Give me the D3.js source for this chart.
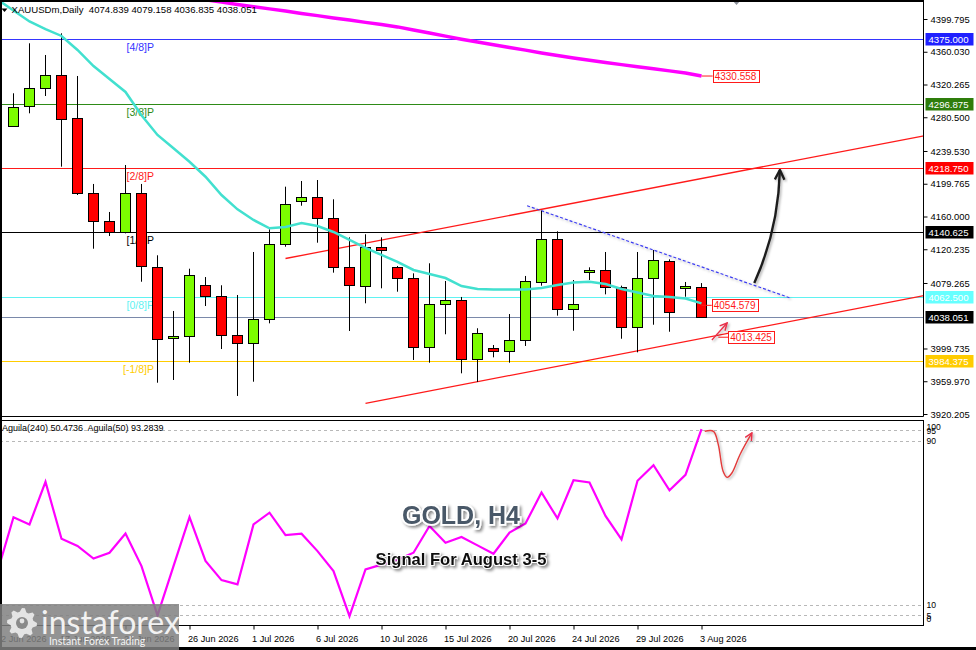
<!DOCTYPE html>
<html>
<head>
<meta charset="utf-8">
<script src="https://d3js.org/d3.v7.min.js"></script>
<style>
  html, body { margin: 0; padding: 0; background: #fff; }
  svg { display: block; font-family: "Liberation Sans", Arial, sans-serif; }
</style>
</head>
<body>
<svg id="chart"></svg>
<script>
// ---- price axis ----
const priceTicks = [4399.795, 4360.030, 4320.265, 4280.500, 4239.530, 4199.765,
                    4160.000, 4120.235, 4079.265, 3999.735, 3959.970, 3920.205];

// ---- daily candles (bar 0 .. 43) ----
const opens  = [4270.2, 4293.3, 4315.7, 4331.4, 4279.2, 4188.9, 4154.2, 4140.8, 4188.2, 4099.1,
                4012.1, 4014.9, 4076.5, 4063.5, 4015.8, 4006.0, 4035.2, 4126.2, 4178.0, 4183.3,
                4157.8, 4098.3, 4076.0, 4123.3, 4098.3, 4085.0, 4001.2, 4053.4, 4058.3, 3986.6,
                4000.0, 3996.3, 4009.7, 4081.3, 4133.0, 4047.7, 4092.3, 4094.7, 4074.0, 4025.8,
                4085.0, 4106.0, 4072.8, 4074.839];
const highs  = [4309.6, 4370.3, 4356.1, 4382.4, 4330.6, 4199.5, 4165.5, 4222.5, 4199.5, 4112.9,
                4045.3, 4096.6, 4086.5, 4076.5, 4064.7, 4116.9, 4144.5, 4196.2, 4203.1, 4204.3,
                4180.9, 4134.7, 4138.4, 4134.7, 4099.9, 4091.0, 4103.2, 4081.7, 4062.3, 4024.3,
                4004.0, 4041.6, 4087.8, 4167.0, 4142.0, 4082.9, 4098.3, 4116.9, 4076.0, 4116.9,
                4119.3, 4108.0, 4080.5, 4079.158];
const lows   = [4269.0, 4285.3, 4306.3, 4220.5, 4186.1, 4120.9, 4136.3, 4139.5, 4080.8, 3958.2,
                3961.5, 3982.5, 4051.3, 3999.1, 3942.1, 3959.4, 4030.3, 4123.3, 4173.1, 4128.2,
                4091.8, 4021.0, 4054.6, 4072.8, 4068.7, 3985.8, 3982.5, 4017.0, 3969.6, 3959.1,
                3989.0, 3982.5, 4002.8, 4076.0, 4039.6, 4021.3, 4082.9, 4065.5, 4011.6, 3995.1,
                4028.6, 4020.1, 4062.6, 4036.835];
const closes = [4293.3, 4315.7, 4331.4, 4278.0, 4188.2, 4154.9, 4140.8, 4188.2, 4099.1, 4012.1,
                4014.9, 4088.6, 4062.6, 4015.8, 4006.0, 4035.2, 4126.2, 4174.8, 4183.3, 4157.8,
                4097.8, 4076.0, 4123.3, 4120.2, 4085.0, 4001.2, 4053.4, 4058.3, 3986.6, 4018.2,
                3996.3, 4009.7, 4081.3, 4133.0, 4047.7, 4053.4, 4095.0, 4074.0, 4025.8, 4085.0,
                4106.8, 4043.7, 4075.3, 4038.051];

// fast MA (turquoise), first value is the bar before bar 0
const maFast = [4423.5, 4410.1, 4396.8, 4387.6, 4379.2, 4362.2, 4342.7, 4326.9, 4311.2, 4283.0,
                4259.0, 4242.8, 4226.5, 4208.3, 4186.1, 4168.7, 4155.8, 4145.7, 4147.3, 4152.1,
                4148.5, 4141.2, 4131.5, 4121.8, 4113.3, 4104.8, 4095.1, 4090.2, 4085.3, 4075.6,
                4072.0, 4071.4, 4071.4, 4071.4, 4073.2, 4076.8, 4079.9, 4080.8, 4078.0, 4072.0,
                4067.7, 4063.5, 4062.3, 4060.5, 4054.579];
// slow MA (magenta), starts at bar 12
const maSlowStart = 12;
const maSlow = [4423.0, 4420.3, 4417.5, 4414.8, 4412.1, 4409.4, 4406.6, 4403.9, 4401.1, 4398.5,
                4395.7, 4393.0, 4390.2, 4386.4, 4382.7, 4379.0, 4375.3, 4371.9, 4368.6, 4365.3,
                4362.0, 4358.6, 4355.4, 4352.4, 4349.8, 4347.1, 4344.4, 4341.8, 4339.3, 4336.8,
                4334.3, 4330.558];

// Murrey levels
const levelValues = [4375.000, 4296.875, 4218.750, 4140.625, 4062.500, 3984.375];
const levelNames  = ["[4/8]P", "[3/8]P", "[2/8]P", "[1/8]P", "[0/8]P", "[-1/8]P"];
const levelColors = ["#3535ff", "#2e8b17", "#ff1a1a", "#000000", "#5ff2f2", "#ffcc00"];
const currentPrice = 4038.051;

// oscillator, first value is the bar before bar 0
const aguila = [26.2, 52.7, 49.2, 69.9, 42.2, 38.7, 32.6, 35.4, 44.8, 28.9,
                4.9, 28.9, 52.7, 31.4, 22.1, 20.0, 49.2, 54.9, 44.0, 44.7,
                36.2, 26.5, 4.6, 27.3, 29.6, 32.0, 35.4, 48.4, 40.3, 43.1,
                39.0, 34.9, 45.2, 49.6, 64.7, 52.1, 70.7, 69.6, 53.3, 41.9,
                70.4, 78.0, 65.8, 73.3, 95.6];
const oscTicks  = [100, 95, 90, 10, 5, 0];
const oscDashed = [95, 90, 10, 5];

// time axis
const dateBars   = [-1, 3, 7, 11, 15, 19, 23, 27, 31, 35, 39, 43];
const dateLabels = ["12 Jun 2026", "17 Jun 2026", "22 Jun 2026", "26 Jun 2026", "1 Jul 2026",
                    "6 Jul 2026", "10 Jul 2026", "15 Jul 2026", "20 Jul 2026", "24 Jul 2026",
                    "29 Jul 2026", "3 Aug 2026"];

// drawn objects, in (bar, price) terms
const upperChannel = [[17.0, 4109.0], [56.9, 4258.0]];
const lowerChannel = [[22.0, 3933.2], [56.9, 4064.0]];
const blueTrend    = [[32.1, 4173.1], [48.6, 4060.7]];
const bigArrow     = [[46.3, 4079.3], [47.8, 4143.6], [47.9, 4216.5]];
const smallArrow   = [[43.65, 4010.1], [44.6, 4030.7]];
const oscArrow     = [[43.2, 94.5], [43.75, 94.5], [44.05, 88.0], [44.35, 75.1], [44.6, 72.1],
                      [44.9, 74.2], [45.4, 83.1], [46.15, 93.7]];

document.addEventListener("DOMContentLoaded", drawChart);

function drawChart() {
    const W = 976, H = 650;
    const plotRight = 923.5;
    const mainBottom = 416.5;
    const oscTop = 420.5, oscBottom = 625.5;

    const svg = d3.select("svg#chart")
        .attr("width", W)
        .attr("height", H);

    const x = d3.scaleLinear().domain([0, 43]).range([13.5, 701.5]);
    const y = d3.scaleLinear().domain([3920.205, 4399.795]).range([414, 19]);
    const yo = d3.scaleLinear().domain([0, 100]).range([oscBottom, 420]);

    const defs = svg.append("defs");
    defs.append("clipPath").attr("id", "clipMain")
        .append("rect").attr("x", 0).attr("y", 0).attr("width", plotRight).attr("height", mainBottom);
    defs.append("clipPath").attr("id", "clipOsc")
        .append("rect").attr("x", 0).attr("y", oscTop).attr("width", plotRight).attr("height", oscBottom - oscTop);

    const shadow = defs.append("filter").attr("id", "txtShadow")
        .attr("x", "-10%").attr("y", "-30%").attr("width", "130%").attr("height", "180%");
    shadow.append("feDropShadow").attr("dx", 2).attr("dy", 2).attr("stdDeviation", 1.6)
        .attr("flood-color", "#000").attr("flood-opacity", 0.45);

    const softShadow = defs.append("filter").attr("id", "softShadow")
        .attr("x", "-20%").attr("y", "-20%").attr("width", "150%").attr("height", "150%");
    softShadow.append("feDropShadow").attr("dx", 1.5).attr("dy", 1.5).attr("stdDeviation", 1)
        .attr("flood-color", "#000").attr("flood-opacity", 0.3);

    function addMarker(id, color, size, width) {
        defs.append("marker")
            .attr("id", id)
            .attr("viewBox", "0 0 10 10")
            .attr("refX", 9).attr("refY", 5)
            .attr("markerUnits", "userSpaceOnUse")
            .attr("markerWidth", size).attr("markerHeight", size)
            .attr("orient", "auto")
            .append("path")
            .attr("d", "M1,1 L9,5 L1,9")
            .attr("fill", "none")
            .attr("stroke", color)
            .attr("stroke-width", width);
    }
    addMarker("headBlack", "#1e1e1e", 12, 2);
    addMarker("headRed", "#e8304a", 9, 1.6);

    // ---- main panel ----
    const main = svg.append("g").attr("clip-path", "url(#clipMain)");

    // Murrey level lines and names
    main.selectAll("line.level")
        .data(levelValues)
        .join("line")
        .attr("class", "level")
        .attr("x1", 0).attr("x2", plotRight)
        .attr("y1", d => Math.round(y(d)) + 0.5)
        .attr("y2", d => Math.round(y(d)) + 0.5)
        .attr("stroke", (d, i) => levelColors[i])
        .attr("stroke-width", 1);

    main.selectAll("text.levelName")
        .data(levelValues)
        .join("text")
        .attr("class", "levelName")
        .attr("x", 154)
        .attr("y", d => Math.round(y(d)) + 11.5)
        .attr("text-anchor", "end")
        .attr("font-size", 10.5)
        .attr("fill", (d, i) => levelColors[i])
        .text((d, i) => levelNames[i]);

    // current price line
    main.append("line")
        .attr("x1", 0).attr("x2", plotRight)
        .attr("y1", Math.round(y(currentPrice)) + 0.5)
        .attr("y2", Math.round(y(currentPrice)) + 0.5)
        .attr("stroke", "#7a89aa")
        .attr("stroke-width", 1);

    const lineXY = d3.line().x(d => x(d[0])).y(d => y(d[1]));

    // channel lines
    [upperChannel, lowerChannel].forEach(seg => {
        main.append("path")
            .attr("d", lineXY(seg))
            .attr("fill", "none")
            .attr("stroke", "#ff1a1a")
            .attr("stroke-width", 1.3);
    });

    // dashed resistance
    main.append("path")
        .attr("d", lineXY(blueTrend))
        .attr("fill", "none")
        .attr("stroke", "#3c3cf0")
        .attr("stroke-width", 1.2)
        .attr("stroke-dasharray", "3,2")
        .attr("filter", "url(#softShadow)");

    // candles
    const bars = d3.range(opens.length).map(i => ({
        i: i, o: opens[i], h: highs[i], l: lows[i], c: closes[i]
    }));

    const candle = main.selectAll("g.candle")
        .data(bars)
        .join("g")
        .attr("class", "candle");

    candle.append("line")
        .attr("x1", d => x(d.i)).attr("x2", d => x(d.i))
        .attr("y1", d => y(d.h)).attr("y2", d => y(d.l))
        .attr("stroke", "#000")
        .attr("stroke-width", 1);

    candle.append("rect")
        .attr("x", d => x(d.i) - 5)
        .attr("width", 10)
        .attr("y", d => Math.round(y(Math.max(d.o, d.c))) + 0.5)
        .attr("height", d => Math.max(2, Math.round(Math.abs(y(d.o) - y(d.c)))))
        .attr("fill", d => d.c >= d.o ? "#7cfc00" : "#ff0000")
        .attr("stroke", "#000")
        .attr("stroke-width", 1);

    // moving averages
    main.append("path")
        .datum(maFast)
        .attr("d", d3.line().x((d, i) => x(i - 1)).y(d => y(d)))
        .attr("fill", "none")
        .attr("stroke", "#42e0cf")
        .attr("stroke-width", 2.5);

    main.append("path")
        .datum(maSlow)
        .attr("d", d3.line().x((d, i) => x(i + maSlowStart)).y(d => y(d)))
        .attr("fill", "none")
        .attr("stroke", "#ff00ff")
        .attr("stroke-width", 3.5);

    // value callouts
    function callout(barFrom, barBox, value, yOffset) {
        const yy = y(value) + (yOffset || 0);
        main.append("line")
            .attr("x1", x(barFrom)).attr("x2", x(barBox))
            .attr("y1", yy).attr("y2", yy)
            .attr("stroke", "#ff1a1a").attr("stroke-width", 1);
        main.append("rect")
            .attr("x", Math.round(x(barBox)) + 0.5)
            .attr("y", Math.round(yy - 6) + 0.5)
            .attr("width", 46).attr("height", 12)
            .attr("fill", "#fff")
            .attr("stroke", "#ff1a1a")
            .attr("stroke-width", 1);
        main.append("text")
            .attr("x", x(barBox) + 2)
            .attr("y", yy + 4)
            .attr("font-size", 10)
            .attr("fill", "#ff1a1a")
            .text(value.toFixed(3));
    }
    callout(43, 43.7, maSlow[maSlow.length - 1], 0);
    callout(43, 43.64, maFast[maFast.length - 1], 2);
    callout(44.05, 44.67, 4013.425, 0);

    // small red arrow
    main.append("path")
        .attr("d", lineXY(smallArrow))
        .attr("fill", "none")
        .attr("stroke", "#e8304a")
        .attr("stroke-width", 1.3)
        .attr("marker-end", "url(#headRed)")
        .attr("filter", "url(#softShadow)");

    // big curved arrow
    const pBig = d3.path();
    pBig.moveTo(x(bigArrow[0][0]), y(bigArrow[0][1]));
    pBig.quadraticCurveTo(x(bigArrow[1][0]), y(bigArrow[1][1]), x(bigArrow[2][0]), y(bigArrow[2][1]));
    main.append("path")
        .attr("d", pBig.toString())
        .attr("fill", "none")
        .attr("stroke", "#1e1e1e")
        .attr("stroke-width", 2.4)
        .attr("marker-end", "url(#headBlack)")
        .attr("filter", "url(#softShadow)");

    // header
    svg.append("path")
        .attr("d", "M1.5,8.5 L7.5,8.5 L4.5,12 Z")
        .attr("fill", "#000");
    svg.append("text")
        .attr("x", 11.5).attr("y", 13)
        .attr("font-size", 9.6)
        .attr("fill", "#000")
        .attr("xml:space", "preserve")
        .text("XAUUSDm,Daily  4074.839 4079.158 4036.835 4038.051");
    svg.append("path")
        .attr("d", "M732,0 L741,0 L736.5,5 Z")
        .attr("fill", "#8a8f99");

    // right price axis
    const axisR = svg.append("g")
        .attr("transform", `translate(${plotRight},0)`)
        .call(d3.axisRight(y).tickValues(priceTicks).tickSize(4).tickPadding(3)
              .tickFormat(d3.format(".3f")));
    axisR.select(".domain").remove();
    axisR.selectAll("text").attr("font-size", 9.4).attr("fill", "#000")
        .attr("font-family", "'Liberation Sans', Arial, sans-serif");

    // level tags on the axis
    const tagValues = levelValues.concat([currentPrice]);
    const tagColors = ["#2020ff", "#2e7d0b", "#ff0000", "#000000", "#66ffff", "#ffcc00", "#000000"];
    const tags = svg.selectAll("g.tag")
        .data(tagValues)
        .join("g")
        .attr("class", "tag")
        .attr("transform", d => `translate(${plotRight + 2},${Math.round(y(d))})`);
    tags.append("rect")
        .attr("x", 0).attr("y", -6)
        .attr("width", 48).attr("height", 12.5)
        .attr("fill", (d, i) => tagColors[i]);
    tags.append("text")
        .attr("x", 3).attr("y", 4)
        .attr("font-size", 9.6)
        .attr("fill", "#fff")
        .text(d => d.toFixed(3));

    // ---- oscillator panel ----
    const osc = svg.append("g").attr("clip-path", "url(#clipOsc)");

    osc.selectAll("line.oscLevel")
        .data(oscDashed)
        .join("line")
        .attr("class", "oscLevel")
        .attr("x1", 0).attr("x2", plotRight)
        .attr("y1", d => Math.round(yo(d)) + 0.5)
        .attr("y2", d => Math.round(yo(d)) + 0.5)
        .attr("stroke", "#b8b8b8")
        .attr("stroke-width", 1)
        .attr("stroke-dasharray", "3,3");

    osc.append("path")
        .datum(aguila)
        .attr("d", d3.line().x((d, i) => x(i - 1)).y(d => yo(d)))
        .attr("fill", "none")
        .attr("stroke", "#ff00ff")
        .attr("stroke-width", 2.2);

    osc.append("path")
        .datum(oscArrow)
        .attr("d", d3.line().curve(d3.curveCatmullRom).x(d => x(d[0])).y(d => yo(d[1])))
        .attr("fill", "none")
        .attr("stroke", "#e23a3a")
        .attr("stroke-width", 1.4)
        .attr("marker-end", "url(#headRed)")
        .attr("filter", "url(#softShadow)");

    svg.append("text")
        .attr("x", 2).attr("y", 431)
        .attr("font-size", 9)
        .attr("fill", "#000")
        .attr("xml:space", "preserve")
        .text("Aguila(240) 50.4736  Aguila(50) 93.2839");

    // oscillator axis labels
    svg.selectAll("text.oscTick")
        .data(oscTicks)
        .join("text")
        .attr("class", "oscTick")
        .attr("x", plotRight + 3)
        .attr("y", d => Math.min(622, Math.max(430, yo(d) + 3.5)))
        .attr("font-size", 8.6)
        .attr("fill", "#000")
        .text(d => d);

    // titles
    svg.append("text")
        .attr("x", 461).attr("y", 524)
        .attr("text-anchor", "middle")
        .attr("font-size", 25)
        .attr("font-weight", "bold")
        .attr("fill", "#4a5867")
        .attr("stroke", "#fff")
        .attr("stroke-width", 3.5)
        .attr("paint-order", "stroke")
        .attr("filter", "url(#txtShadow)")
        .text("GOLD, H4");

    svg.append("text")
        .attr("x", 461).attr("y", 565)
        .attr("text-anchor", "middle")
        .attr("font-size", 16.6)
        .attr("font-weight", "bold")
        .attr("fill", "#111")
        .attr("stroke", "#fff")
        .attr("stroke-width", 2)
        .attr("paint-order", "stroke")
        .attr("filter", "url(#txtShadow)")
        .text("Signal For August 3-5");

    // time axis
    const axisB = svg.append("g")
        .attr("transform", `translate(0,${oscBottom})`)
        .call(d3.axisBottom(x).tickValues(dateBars).tickSize(4).tickPadding(6)
              .tickFormat((d, i) => dateLabels[i]));
    axisB.select(".domain").remove();
    axisB.selectAll("text")
        .attr("text-anchor", "start")
        .attr("dx", -2)
        .attr("font-size", 9.2)
        .attr("fill", "#000")
        .attr("font-family", "'Liberation Sans', Arial, sans-serif");

    // frames
    const frame = svg.append("g").attr("fill", "none").attr("stroke", "#000").attr("stroke-width", 1);
    frame.append("line").attr("x1", plotRight).attr("x2", plotRight).attr("y1", 0).attr("y2", mainBottom);
    frame.append("line").attr("x1", 0).attr("x2", plotRight).attr("y1", mainBottom).attr("y2", mainBottom);
    frame.append("rect").attr("x", 0.5).attr("y", oscTop).attr("width", plotRight - 0.5).attr("height", oscBottom - oscTop);
    svg.append("rect").attr("x", 0).attr("y", 0).attr("width", plotRight).attr("height", 2).attr("fill", "#000");
    svg.append("rect").attr("x", 0).attr("y", 0).attr("width", 2).attr("height", H).attr("fill", "#000");
    svg.append("rect").attr("x", 0).attr("y", 647).attr("width", W).attr("height", 3).attr("fill", "#000");

    // logo
    const logo = svg.append("g");
    logo.append("rect")
        .attr("x", 0).attr("y", 604)
        .attr("width", 179).attr("height", 46)
        .attr("fill", "#808080")
        .attr("opacity", 0.85);
    const teeth = 8;
    const gearPts = d3.range(teeth * 4).map(k => {
        const a = k / (teeth * 4) * 2 * Math.PI;
        const r = (k % 4 < 2) ? 15 : 11.5;
        return [22 + r * Math.cos(a), 623 + r * Math.sin(a)];
    });
    logo.append("path")
        .attr("d", d3.line()(gearPts) + "Z")
        .attr("fill", "#e4e4e4");
    logo.append("circle").attr("cx", 22).attr("cy", 623).attr("r", 6).attr("fill", "#8a8a8a");
    logo.append("circle").attr("cx", 22).attr("cy", 621).attr("r", 2.4).attr("fill", "#e4e4e4");
    logo.append("text")
        .attr("x", 41).attr("y", 634)
        .attr("font-family", "Lato, 'Open Sans', sans-serif")
        .attr("font-size", 32)
        .attr("fill", "#f2f2f2")
        .text("instaforex");
    logo.append("text")
        .attr("x", 49).attr("y", 645)
        .attr("font-family", "Lato, 'Open Sans', sans-serif")
        .attr("font-size", 10.5)
        .attr("fill", "#f2f2f2")
        .text("Instant Forex Trading");
}
</script>
</body>
</html>
